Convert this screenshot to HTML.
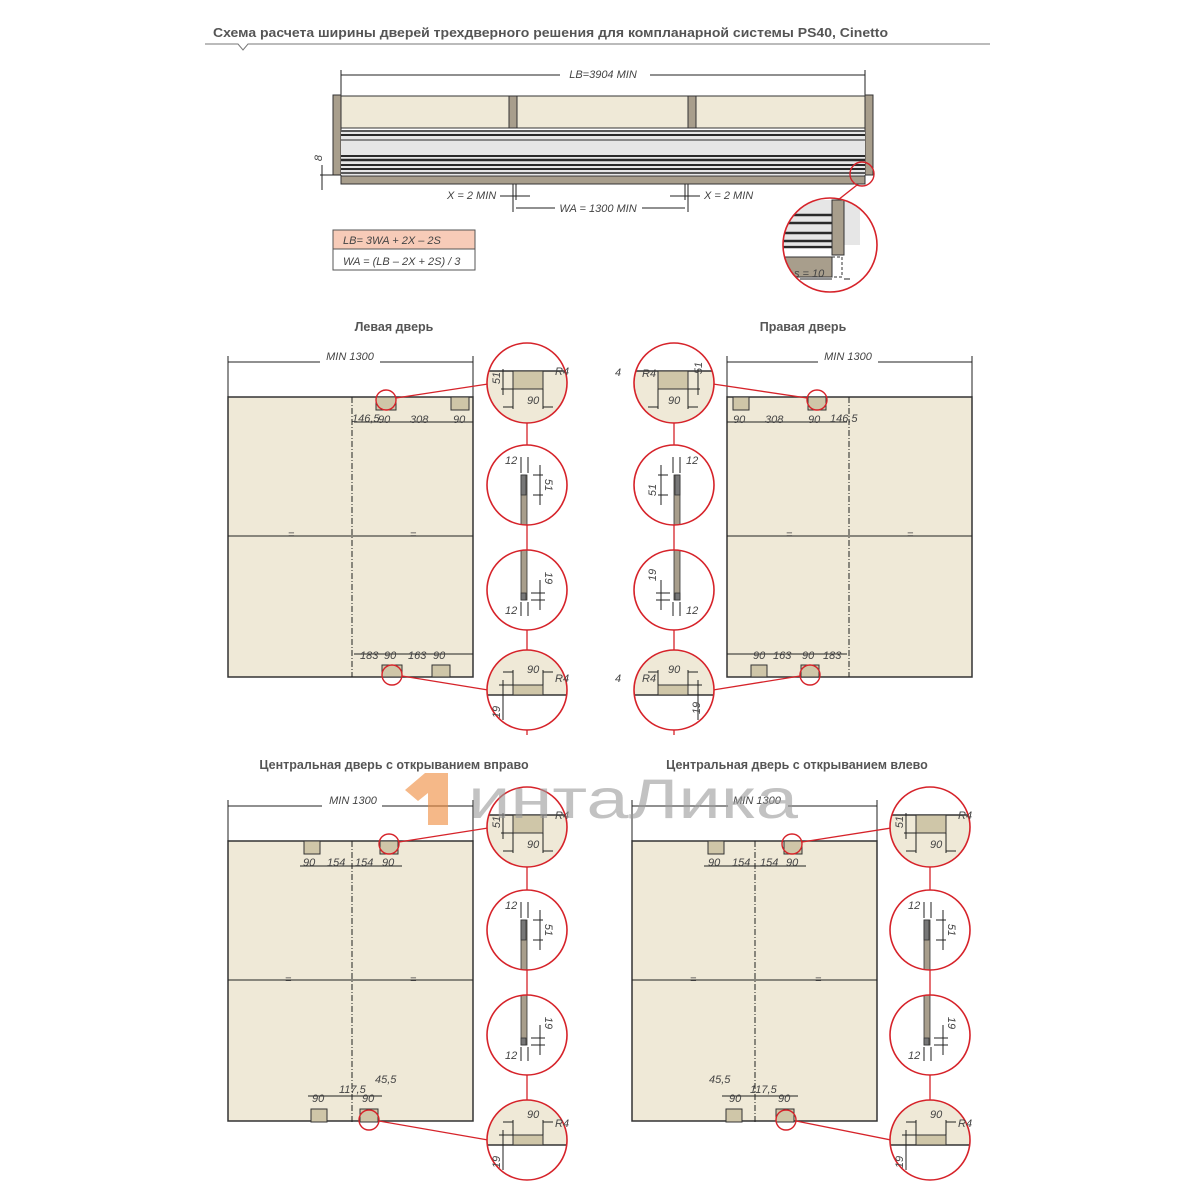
<!DOCTYPE html>
<html><head><meta charset="utf-8"><style>
html,body{margin:0;padding:0;background:#fff}
svg{display:block}
text{font-family:"Liberation Sans","DejaVu Sans",sans-serif;fill:#444}
.t{font-style:italic;font-size:11px}
.h{font-weight:bold;font-size:12.5px;fill:#555}
</style></head><body>
<svg width="1200" height="1200" viewBox="0 0 1200 1200" xmlns="http://www.w3.org/2000/svg">
<defs>
<clipPath id="cc"><circle cx="0" cy="0" r="40"/></clipPath>
<g id="dA">
 <circle r="40" fill="#fff"/>
 <g clip-path="url(#cc)">
  <rect x="-40" y="-12" width="80" height="60" fill="#efe9d7"/>
  <line x1="-40" y1="-12" x2="40" y2="-12" stroke="#333" stroke-width="1.5"/>
  <rect x="-14" y="-12" width="30" height="18" fill="#cfc6a8" stroke="#333"/>
  <line x1="-14" y1="6" x2="-14" y2="26" stroke="#222"/><line x1="16" y1="6" x2="16" y2="26" stroke="#222"/>
  <line x1="-24" y1="24" x2="-14" y2="24" stroke="#222"/><line x1="16" y1="24" x2="26" y2="24" stroke="#222"/>
  <line x1="-26" y1="6" x2="-14" y2="6" stroke="#222"/><line x1="-24" y1="-14" x2="-24" y2="12" stroke="#222"/>
 </g>
 <circle r="40" fill="none" stroke="#d6232a" stroke-width="1.6"/>
</g>
<g id="dB">
 <circle r="40" fill="#fff"/>
 <g clip-path="url(#cc)">
  <rect x="-6" y="-10" width="6" height="52" fill="#a89e8c" stroke="#333" stroke-width=".8"/>
  <rect x="-6" y="-10" width="5" height="20" fill="#777" stroke="#333" stroke-width=".8"/>
  <line x1="-6" y1="-28" x2="-6" y2="-12" stroke="#222"/><line x1="1" y1="-28" x2="1" y2="-12" stroke="#222"/>
  <line x1="6" y1="-10" x2="16" y2="-10" stroke="#222"/><line x1="6" y1="10" x2="16" y2="10" stroke="#222"/>
  <line x1="13" y1="-20" x2="13" y2="20" stroke="#222"/>
 </g>
 <circle r="40" fill="none" stroke="#d6232a" stroke-width="1.6"/>
</g>
<g id="dC">
 <circle r="40" fill="#fff"/>
 <g clip-path="url(#cc)">
  <rect x="-6" y="-42" width="6" height="52" fill="#a89e8c" stroke="#333" stroke-width=".8"/>
  <rect x="-6" y="3" width="5" height="7" fill="#777" stroke="#333" stroke-width=".8"/>
  <line x1="-6" y1="12" x2="-6" y2="26" stroke="#222"/><line x1="1" y1="12" x2="1" y2="26" stroke="#222"/>
  <line x1="4" y1="3" x2="18" y2="3" stroke="#222"/><line x1="4" y1="10" x2="18" y2="10" stroke="#222"/>
  <line x1="13" y1="-10" x2="13" y2="20" stroke="#222"/>
 </g>
 <circle r="40" fill="none" stroke="#d6232a" stroke-width="1.6"/>
</g>
<g id="dD">
 <circle r="40" fill="#fff"/>
 <g clip-path="url(#cc)">
  <rect x="-40" y="-40" width="80" height="45" fill="#efe9d7"/>
  <line x1="-40" y1="5" x2="40" y2="5" stroke="#333" stroke-width="1.5"/>
  <rect x="-14" y="-5" width="30" height="10" fill="#cfc6a8" stroke="#333"/>
  <line x1="-14" y1="-5" x2="-14" y2="-20" stroke="#222"/><line x1="16" y1="-5" x2="16" y2="-20" stroke="#222"/>
  <line x1="-24" y1="-18" x2="-14" y2="-18" stroke="#222"/><line x1="16" y1="-18" x2="26" y2="-18" stroke="#222"/>
  <line x1="-28" y1="-5" x2="-14" y2="-5" stroke="#222"/><line x1="-24" y1="-10" x2="-24" y2="30" stroke="#222"/>
 </g>
 <circle r="40" fill="none" stroke="#d6232a" stroke-width="1.6"/>
</g>
<g id="door">
 <rect x="0" y="0" width="245" height="280" fill="#efe9d7" stroke="#333" stroke-width="1.5"/>
 <line x1="0" y1="139" x2="245" y2="139" stroke="#222" stroke-width="1"/>
</g>
</defs>

<!-- title -->
<text x="213" y="37" class="h" textLength="675" lengthAdjust="spacingAndGlyphs" style="font-size:13px;font-weight:bold">Схема расчета ширины дверей трехдверного решения для компланарной системы PS40, Cinetto</text>
<polyline points="205,44 238,44 243,50 248,44 990,44" fill="none" stroke="#777" stroke-width="1"/>

<!-- top diagram -->
<line x1="341" y1="75" x2="865" y2="75" stroke="#222"/>
<line x1="341" y1="70" x2="341" y2="95" stroke="#222"/><line x1="865" y1="70" x2="865" y2="95" stroke="#222"/>
<rect x="560" y="67" width="90" height="14" fill="#fff"/>
<text x="603" y="78" class="t" text-anchor="middle">LB=3904 MIN</text>
<rect x="333" y="95" width="8" height="80" fill="#a89e8c" stroke="#333"/>
<rect x="865" y="95" width="8" height="80" fill="#a89e8c" stroke="#333"/>
<rect x="341" y="96" width="168" height="32" fill="#efe9d7" stroke="#333"/>
<rect x="509" y="96" width="8" height="32" fill="#a89e8c" stroke="#333"/>
<rect x="517" y="96" width="171" height="32" fill="#efe9d7" stroke="#333"/>
<rect x="688" y="96" width="8" height="32" fill="#a89e8c" stroke="#333"/>
<rect x="696" y="96" width="169" height="32" fill="#efe9d7" stroke="#333"/>
<rect x="341" y="130" width="524" height="45" fill="#e6e6e6"/>
<g stroke="#2a2a2a">
<line x1="341" y1="131" x2="865" y2="131" stroke-width="1.5"/>
<line x1="341" y1="135" x2="865" y2="135" stroke-width="2"/>
<line x1="341" y1="140" x2="865" y2="140" stroke-width="1"/>
<line x1="341" y1="156" x2="865" y2="156" stroke-width="2"/>
<line x1="341" y1="160" x2="865" y2="160" stroke-width="2.5"/>
<line x1="341" y1="165" x2="865" y2="165" stroke-width="2"/>
<line x1="341" y1="169" x2="865" y2="169" stroke-width="2"/>
<line x1="341" y1="173" x2="865" y2="173" stroke-width="1.5"/>
</g>
<rect x="341" y="176" width="524" height="8" fill="#a89e8c" stroke="#333"/>
<line x1="320" y1="175" x2="341" y2="175" stroke="#222"/><line x1="322" y1="165" x2="322" y2="190" stroke="#222"/>
<text x="322" y="158" class="t" transform="rotate(-90 322 158)" text-anchor="middle">8</text>
<line x1="513" y1="184" x2="513" y2="212" stroke="#222"/><line x1="688" y1="184" x2="688" y2="212" stroke="#222"/>
<line x1="516" y1="184" x2="516" y2="200" stroke="#222"/><line x1="685" y1="184" x2="685" y2="200" stroke="#222"/>
<line x1="500" y1="196" x2="530" y2="196" stroke="#222"/><line x1="670" y1="196" x2="700" y2="196" stroke="#222"/>
<text x="447" y="199" class="t">X = 2 MIN</text>
<text x="704" y="199" class="t">X = 2 MIN</text>
<line x1="516" y1="208" x2="555" y2="208" stroke="#222"/><line x1="642" y1="208" x2="685" y2="208" stroke="#222"/>
<text x="598" y="212" class="t" text-anchor="middle">WA = 1300 MIN</text>
<rect x="333" y="230" width="142" height="19" fill="#f7cbb8" stroke="#555"/>
<rect x="333" y="249" width="142" height="21" fill="#fff" stroke="#555"/>
<text x="343" y="244" class="t">LB= 3WA + 2X – 2S</text>
<text x="343" y="265" class="t">WA = (LB – 2X + 2S) / 3</text>
<circle cx="862" cy="174" r="12" fill="none" stroke="#d6232a" stroke-width="1.4"/>
<line x1="857" y1="185" x2="838" y2="200" stroke="#d6232a" stroke-width="1.4"/>
<g transform="translate(830,245)">
 <circle r="47" fill="#fff"/>
 <clipPath id="cz"><circle r="47"/></clipPath>
 <g clip-path="url(#cz)">
  <rect x="-50" y="-45" width="80" height="45" fill="#e6e6e6"/>
  <g stroke="#2a2a2a" stroke-width="2.5"><line x1="-50" y1="-30" x2="2" y2="-30"/><line x1="-50" y1="-22" x2="2" y2="-22"/><line x1="-50" y1="-12" x2="2" y2="-12"/><line x1="-50" y1="-4" x2="2" y2="-4"/><line x1="-50" y1="2" x2="2" y2="2"/></g>
  <rect x="2" y="-45" width="12" height="55" fill="#a89e8c" stroke="#333"/>
  <rect x="-50" y="12" width="52" height="20" fill="#a89e8c" stroke="#333"/>
  <rect x="2" y="12" width="10" height="20" fill="none" stroke="#333" stroke-dasharray="3 2"/>
  <line x1="-30" y1="34" x2="2" y2="34" stroke="#222"/><line x1="14" y1="34" x2="20" y2="34" stroke="#222"/>
 </g>
 <text x="-36" y="32" class="t" font-size="8">s = 10</text>
 <circle r="47" fill="none" stroke="#d6232a" stroke-width="1.6"/>
</g>

<!-- section titles -->
<text x="394" y="331" class="h" text-anchor="middle">Левая дверь</text>
<text x="803" y="331" class="h" text-anchor="middle">Правая дверь</text>
<text x="394" y="769" class="h" text-anchor="middle">Центральная дверь с открыванием вправо</text>
<text x="797" y="769" class="h" text-anchor="middle">Центральная дверь с открыванием влево</text>

<!-- LEFT DOOR -->
<g transform="translate(228,397)">
 <use href="#door"/>
 <line x1="124" y1="0" x2="124" y2="280" stroke="#222" stroke-dasharray="6 2 1 2"/>
 <rect x="148" y="0" width="20" height="13" fill="#cfc6a8" stroke="#333"/>
 <rect x="223" y="0" width="18" height="13" fill="#cfc6a8" stroke="#333"/>
 <rect x="154" y="268" width="20" height="12" fill="#cfc6a8" stroke="#333"/>
 <rect x="204" y="268" width="18" height="12" fill="#cfc6a8" stroke="#333"/>
 <line x1="126" y1="25" x2="245" y2="25" stroke="#222"/>
 <line x1="126" y1="257" x2="245" y2="257" stroke="#222"/>
</g>
<line x1="228" y1="362" x2="473" y2="362" stroke="#222"/><line x1="228" y1="356" x2="228" y2="397" stroke="#222"/><line x1="473" y1="356" x2="473" y2="397" stroke="#222"/>
<rect x="320" y="350" width="60" height="14" fill="#fff"/><text x="350" y="360" class="t" text-anchor="middle">MIN 1300</text>
<text x="352" y="422" class="t" font-size="10">146,5</text><text x="378" y="423" class="t">90</text><text x="410" y="423" class="t">308</text><text x="453" y="423" class="t">90</text>
<text x="360" y="659" class="t">183</text><text x="384" y="659" class="t">90</text><text x="408" y="659" class="t">163</text><text x="433" y="659" class="t">90</text>
<text x="288" y="538" class="t">=</text><text x="410" y="538" class="t">=</text>
<circle cx="386" cy="400" r="10" fill="none" stroke="#d6232a" stroke-width="1.4"/>
<circle cx="392" cy="675" r="10" fill="none" stroke="#d6232a" stroke-width="1.4"/>
<line x1="396" y1="398" x2="488" y2="384" stroke="#d6232a" stroke-width="1.3"/>
<line x1="402" y1="676" x2="488" y2="690" stroke="#d6232a" stroke-width="1.3"/>
<line x1="527" y1="423" x2="527" y2="735" stroke="#d6232a" stroke-width="1.3"/>
<use href="#dA" x="527" y="383"/><use href="#dB" x="527" y="485"/><use href="#dC" x="527" y="590"/><use href="#dD" x="527" y="690"/>
<text x="500" y="378" class="t" transform="rotate(-90 500 378)" text-anchor="middle">51</text><text x="555" y="375" class="t">R4</text><text x="527" y="404" class="t">90</text>
<text x="505" y="464" class="t">12</text><text x="545" y="485" class="t" transform="rotate(90 545 485)" text-anchor="middle">51</text>
<text x="545" y="578" class="t" transform="rotate(90 545 578)" text-anchor="middle">19</text><text x="505" y="614" class="t">12</text>
<text x="527" y="673" class="t">90</text><text x="555" y="682" class="t">R4</text><text x="500" y="712" class="t" transform="rotate(-90 500 712)" text-anchor="middle">19</text>

<!-- RIGHT DOOR -->
<g transform="translate(727,397)">
 <use href="#door"/>
 <line x1="122" y1="0" x2="122" y2="280" stroke="#222" stroke-dasharray="6 2 1 2"/>
 <rect x="6" y="0" width="16" height="13" fill="#cfc6a8" stroke="#333"/>
 <rect x="81" y="0" width="18" height="13" fill="#cfc6a8" stroke="#333"/>
 <rect x="24" y="268" width="16" height="12" fill="#cfc6a8" stroke="#333"/>
 <rect x="74" y="268" width="18" height="12" fill="#cfc6a8" stroke="#333"/>
 <line x1="0" y1="25" x2="120" y2="25" stroke="#222"/>
 <line x1="0" y1="257" x2="120" y2="257" stroke="#222"/>
</g>
<line x1="727" y1="362" x2="972" y2="362" stroke="#222"/><line x1="727" y1="356" x2="727" y2="397" stroke="#222"/><line x1="972" y1="356" x2="972" y2="397" stroke="#222"/>
<rect x="818" y="350" width="60" height="14" fill="#fff"/><text x="848" y="360" class="t" text-anchor="middle">MIN 1300</text>
<text x="733" y="423" class="t">90</text><text x="765" y="423" class="t">308</text><text x="808" y="423" class="t">90</text><text x="830" y="422" class="t" font-size="10">146,5</text>
<text x="753" y="659" class="t">90</text><text x="773" y="659" class="t">163</text><text x="802" y="659" class="t">90</text><text x="823" y="659" class="t">183</text>
<text x="786" y="538" class="t">=</text><text x="907" y="538" class="t">=</text>
<circle cx="817" cy="400" r="10" fill="none" stroke="#d6232a" stroke-width="1.4"/>
<circle cx="810" cy="675" r="10" fill="none" stroke="#d6232a" stroke-width="1.4"/>
<line x1="807" y1="398" x2="713" y2="384" stroke="#d6232a" stroke-width="1.3"/>
<line x1="800" y1="676" x2="713" y2="690" stroke="#d6232a" stroke-width="1.3"/>
<line x1="674" y1="423" x2="674" y2="735" stroke="#d6232a" stroke-width="1.3"/>
<g transform="translate(674,0) scale(-1,1)"><use href="#dA" x="0" y="383"/><use href="#dB" x="0" y="485"/><use href="#dC" x="0" y="590"/><use href="#dD" x="0" y="690"/></g>
<text x="615" y="376" class="t">4</text><text x="615" y="682" class="t">4</text>
<text x="702" y="368" class="t" transform="rotate(-90 702 368)" text-anchor="middle">51</text><text x="642" y="377" class="t">R4</text><text x="668" y="404" class="t">90</text>
<text x="686" y="464" class="t">12</text><text x="656" y="490" class="t" transform="rotate(-90 656 490)" text-anchor="middle">51</text>
<text x="656" y="575" class="t" transform="rotate(-90 656 575)" text-anchor="middle">19</text><text x="686" y="614" class="t">12</text>
<text x="668" y="673" class="t">90</text><text x="642" y="682" class="t">R4</text><text x="700" y="708" class="t" transform="rotate(-90 700 708)" text-anchor="middle">19</text>

<!-- CENTER RIGHT-OPEN -->
<g transform="translate(228,841)">
 <use href="#door"/>
 <line x1="124" y1="0" x2="124" y2="281" stroke="#222" stroke-dasharray="6 2 1 2"/>
 <rect x="76" y="0" width="16" height="13" fill="#cfc6a8" stroke="#333"/>
 <rect x="152" y="0" width="18" height="13" fill="#cfc6a8" stroke="#333"/>
 <rect x="83" y="268" width="16" height="13" fill="#cfc6a8" stroke="#333"/>
 <rect x="132" y="268" width="18" height="13" fill="#cfc6a8" stroke="#333"/>
 <line x1="72" y1="25" x2="174" y2="25" stroke="#222"/>
 <line x1="80" y1="255" x2="154" y2="255" stroke="#222"/>
</g>
<line x1="228" y1="806" x2="473" y2="806" stroke="#222"/><line x1="228" y1="800" x2="228" y2="841" stroke="#222"/><line x1="473" y1="800" x2="473" y2="841" stroke="#222"/>
<rect x="322" y="794" width="60" height="14" fill="#fff"/><text x="353" y="804" class="t" text-anchor="middle">MIN 1300</text>
<text x="303" y="866" class="t">90</text><text x="327" y="866" class="t">154</text><text x="355" y="866" class="t">154</text><text x="382" y="866" class="t">90</text>
<text x="375" y="1083" class="t">45,5</text><text x="339" y="1093" class="t">117,5</text><text x="312" y="1102" class="t">90</text><text x="362" y="1102" class="t">90</text>
<text x="285" y="983" class="t">=</text><text x="410" y="983" class="t">=</text>
<circle cx="389" cy="844" r="10" fill="none" stroke="#d6232a" stroke-width="1.4"/>
<circle cx="369" cy="1120" r="10" fill="none" stroke="#d6232a" stroke-width="1.4"/>
<line x1="399" y1="842" x2="488" y2="828" stroke="#d6232a" stroke-width="1.3"/>
<line x1="379" y1="1121" x2="488" y2="1140" stroke="#d6232a" stroke-width="1.3"/>
<line x1="527" y1="867" x2="527" y2="1180" stroke="#d6232a" stroke-width="1.3"/>
<use href="#dA" x="527" y="827"/><use href="#dB" x="527" y="930"/><use href="#dC" x="527" y="1035"/><use href="#dD" x="527" y="1140"/>
<text x="500" y="822" class="t" transform="rotate(-90 500 822)" text-anchor="middle">51</text><text x="555" y="819" class="t">R4</text><text x="527" y="848" class="t">90</text>
<text x="505" y="909" class="t">12</text><text x="545" y="930" class="t" transform="rotate(90 545 930)" text-anchor="middle">51</text>
<text x="545" y="1023" class="t" transform="rotate(90 545 1023)" text-anchor="middle">19</text><text x="505" y="1059" class="t">12</text>
<text x="527" y="1118" class="t">90</text><text x="555" y="1127" class="t">R4</text><text x="500" y="1162" class="t" transform="rotate(-90 500 1162)" text-anchor="middle">19</text>

<!-- CENTER LEFT-OPEN -->
<g transform="translate(632,841)">
 <use href="#door"/>
 <line x1="123" y1="0" x2="123" y2="281" stroke="#222" stroke-dasharray="6 2 1 2"/>
 <rect x="76" y="0" width="16" height="13" fill="#cfc6a8" stroke="#333"/>
 <rect x="152" y="0" width="18" height="13" fill="#cfc6a8" stroke="#333"/>
 <rect x="94" y="268" width="16" height="13" fill="#cfc6a8" stroke="#333"/>
 <rect x="144" y="268" width="18" height="13" fill="#cfc6a8" stroke="#333"/>
 <line x1="72" y1="25" x2="174" y2="25" stroke="#222"/>
 <line x1="90" y1="255" x2="166" y2="255" stroke="#222"/>
</g>
<line x1="632" y1="806" x2="877" y2="806" stroke="#222"/><line x1="632" y1="800" x2="632" y2="841" stroke="#222"/><line x1="877" y1="800" x2="877" y2="841" stroke="#222"/>
<rect x="728" y="794" width="60" height="14" fill="#fff"/><text x="757" y="804" class="t" text-anchor="middle">MIN 1300</text>
<text x="708" y="866" class="t">90</text><text x="732" y="866" class="t">154</text><text x="760" y="866" class="t">154</text><text x="786" y="866" class="t">90</text>
<text x="709" y="1083" class="t">45,5</text><text x="750" y="1093" class="t">117,5</text><text x="729" y="1102" class="t">90</text><text x="778" y="1102" class="t">90</text>
<text x="690" y="983" class="t">=</text><text x="815" y="983" class="t">=</text>
<circle cx="792" cy="844" r="10" fill="none" stroke="#d6232a" stroke-width="1.4"/>
<circle cx="786" cy="1120" r="10" fill="none" stroke="#d6232a" stroke-width="1.4"/>
<line x1="802" y1="842" x2="891" y2="828" stroke="#d6232a" stroke-width="1.3"/>
<line x1="796" y1="1121" x2="891" y2="1140" stroke="#d6232a" stroke-width="1.3"/>
<line x1="930" y1="867" x2="930" y2="1180" stroke="#d6232a" stroke-width="1.3"/>
<use href="#dA" x="930" y="827"/><use href="#dB" x="930" y="930"/><use href="#dC" x="930" y="1035"/><use href="#dD" x="930" y="1140"/>
<text x="903" y="822" class="t" transform="rotate(-90 903 822)" text-anchor="middle">51</text><text x="958" y="819" class="t">R4</text><text x="930" y="848" class="t">90</text>
<text x="908" y="909" class="t">12</text><text x="948" y="930" class="t" transform="rotate(90 948 930)" text-anchor="middle">51</text>
<text x="948" y="1023" class="t" transform="rotate(90 948 1023)" text-anchor="middle">19</text><text x="908" y="1059" class="t">12</text>
<text x="930" y="1118" class="t">90</text><text x="958" y="1127" class="t">R4</text><text x="903" y="1162" class="t" transform="rotate(-90 903 1162)" text-anchor="middle">19</text>

<!-- watermark -->
<g opacity="0.6">
 <polygon points="405,790 425,773 448,773 448,825 428,825 428,793 418,801" fill="#f08a3a"/>
 <text x="468" y="818" font-size="56" textLength="330" lengthAdjust="spacingAndGlyphs" style="fill:#9a9a9a;font-family:'Liberation Sans',sans-serif">интаЛика</text>
</g>
</svg>
</body></html>
